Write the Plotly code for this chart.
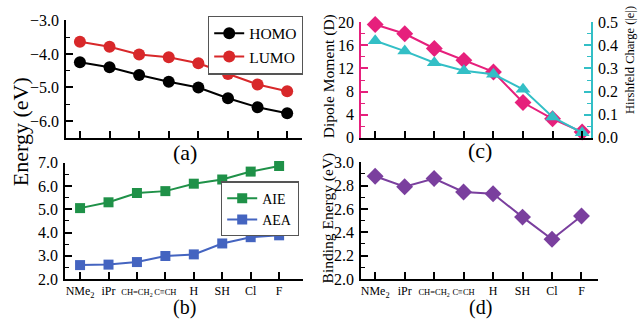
import plotly.graph_objects as go

categories = ["NMe2", "iPr", "CH=CH2", "C≡CH", "H", "SH", "Cl", "F"]
SMALL = "<span style='font-size:8.5px;font-family:Liberation Serif'>{}</span>"
tick_labels = ["NMe<sub>2</sub>", "iPr", SMALL.format("CH=CH<sub>2</sub>"),
               SMALL.format("C≡CH"), "H", "SH", "Cl", "F"]
homo = [-4.25, -4.40, -4.63, -4.83, -5.00, -5.32, -5.59, -5.77]
lumo = [-3.64, -3.79, -4.02, -4.10, -4.28, -4.60, -4.91, -5.11]
aie = [5.05, 5.30, 5.70, 5.78, 6.10, 6.28, 6.62, 6.86]
aea = [2.60, 2.62, 2.73, 2.99, 3.06, 3.53, 3.80, 3.88]
dipole = [19.6, 18.0, 15.45, 13.4, 11.4, 6.1, 3.3, 1.0]
hirshfeld = [0.42, 0.375, 0.325, 0.29, 0.275, 0.21, 0.09, 0.022]
binding = [2.88, 2.79, 2.86, 2.745, 2.73, 2.53, 2.34, 2.54]

W, H = 638, 325
FONT = "Liberation Serif"
xs = list(range(len(categories)))

def px(x):
    return x / W

def py(y):
    return 1 - y / H

fig = go.Figure()
def add(y, name, color, symbol, size, xa, ya, legend=None):
    fig.add_trace(go.Scatter(x=xs, y=y, name=name, mode="lines+markers", cliponaxis=False,
                             showlegend=legend is not None, legend=legend or "legend",
                             line=dict(color=color, width=2),
                             marker=dict(symbol=symbol, size=size, color=color),
                             xaxis=xa, yaxis=ya))

add(homo, "HOMO", "black", "circle", 12, "x", "y", "legend")
add(lumo, "LUMO", "#d8282a", "circle", 12, "x", "y", "legend")
add(aie, "AIE", "#1f9148", "square", 10, "x2", "y2", "legend2")
add(aea, "AEA", "#4464c0", "square", 10, "x2", "y2", "legend2")
add(dipole, "Dipole", "#e6207c", "diamond", 13, "x3", "y3")
add(hirshfeld, "Hirshfeld", "#33bfc6", "triangle-up", 13, "x3", "y5")
add(binding, "Binding", "#7a3f9e", "diamond", 13, "x4", "y4")

tickfont = dict(family=FONT, size=16, color="black")

def xax(dom, anchor, rng, labels):
    d = dict(domain=dom, anchor=anchor, range=rng, showgrid=False, zeroline=False,
             showline=True, linecolor="black", linewidth=1.5, ticks="inside", ticklen=7,
             tickwidth=1.5, tickcolor="black", tickvals=xs, tickangle=0)
    if labels:
        d.update(ticktext=tick_labels, showticklabels=True, tickfont=dict(family=FONT, size=12, color="black"))
    else:
        d.update(showticklabels=False)
    return d

def yax(dom, anchor, rng, tick0, dtick, minor, fmt, color="black", side="left", overlaying=None):
    d = dict(domain=dom, anchor=anchor, range=rng, dtick=dtick, tick0=tick0, showgrid=False,
             zeroline=False, showline=True, linecolor=color, linewidth=1.5, ticks="inside",
             ticklen=7, tickwidth=1.5, tickcolor=color, tickformat=fmt, tickfont=tickfont,
             side=side, ticklabelstandoff=2,
             minor=dict(dtick=minor, tick0=tick0, ticks="inside", ticklen=4, tickcolor=color, tickwidth=1))
    if overlaying:
        d["overlaying"] = overlaying
        d.pop("domain")
    return d

fig.update_layout(
    width=W, height=H, margin=dict(l=0, r=0, t=0, b=0),
    paper_bgcolor="white", plot_bgcolor="white",
    font=dict(family=FONT, color="black"),
    xaxis=xax([px(66), px(302)], "y", [-0.47, 7.5], False),
    yaxis=yax([py(137), py(13)], "x", [-6.5, -3.0], -3.0, 1, 0.5, ".1f"),
    xaxis2=xax([px(65), px(303)], "y2", [-0.53, 7.84], True),
    yaxis2=yax([py(286), py(163.3)], "x2", [2.0, 7.0], 2.0, 1, 0.5, ".1f"),
    xaxis3=xax([px(361), px(591)], "y3", [-0.48, 7.3], False),
    yaxis3=yax([py(137), py(15)], "x3", [0, 20], 0, 4, 2, "d", color="#e6207c"),
    yaxis5=yax(None, "x3", [0, 0.5], 0, 0.1, 0.05, ".1f", color="#33bfc6", side="right", overlaying="y3"),
    xaxis4=xax([px(361), px(598)], "y4", [-0.48, 7.56], True),
    yaxis4=yax([py(286), py(162.7)], "x4", [2.0, 3.0], 2.0, 0.2, 0.1, ".1f"),
    legend=dict(x=px(303), y=py(8), xanchor="right", yanchor="top", bordercolor="#555555",
                borderwidth=1.2, bgcolor="white", font=dict(family=FONT, size=15.5, color="black"),
                tracegroupgap=0, itemwidth=30),
    legend2=dict(x=px(299), y=py(183), xanchor="right", yanchor="top", bordercolor="#555555",
                 borderwidth=1.2, bgcolor="white", font=dict(family=FONT, size=14, color="black"),
                 tracegroupgap=0, itemwidth=30),
)

annotations = [
    dict(text="Energy (eV)", x=px(20), y=py(131), textangle=-90, font=dict(size=22)),
    dict(text="(a)", x=px(185), y=py(153), font=dict(size=22)),
    dict(text="(b)", x=px(184), y=py(316), font=dict(size=20)),
    dict(text="(c)", x=px(480), y=py(150), font=dict(size=22)),
    dict(text="(d)", x=px(480), y=py(316), font=dict(size=20)),
    dict(text="Dipole Moment (D)", x=px(329), y=py(72), textangle=-90, font=dict(size=15.5)),
    dict(text="Hirshfeld Charge (|e|)", x=px(630), y=py(55), textangle=-90, font=dict(size=12.5)),
    dict(text="Binding Energy (eV)", x=px(328), y=py(222), textangle=-90, font=dict(size=15.5)),
]
for a in annotations:
    a.update(xref="paper", yref="paper", showarrow=False, xanchor="center", yanchor="middle")
    a["font"] = dict(family=FONT, color="black", **a["font"])
fig.update_layout(annotations=annotations)

fig.write_html("out.html")
